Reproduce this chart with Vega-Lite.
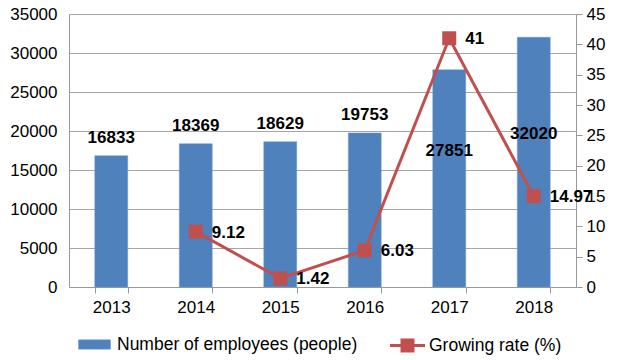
{
  "$schema": "https://vega.github.io/schema/vega-lite/v6.json",
  "width": 617,
  "height": 360,
  "autosize": {"type": "fit", "contains": "padding"},
  "padding": {"left": 9, "right": 12, "top": 5, "bottom": 3},
  "background": "white",
  "config": {
    "font": "Liberation Sans",
    "view": {"stroke": null},
    "axis": {"labelFont": "Liberation Sans", "labelFontSize": 17, "labelColor": "#000", "domainColor": "#999", "tickColor": "#999", "gridColor": "#A6A6A6", "title": null, "labelOverlap": false},
    "legend": {"layout": {"bottom": {"anchor": "middle", "direction": "horizontal", "margin": 38}}}
  },
  "data": {"values": [
    {"year": "2013", "employees": 16833, "rate": null},
    {"year": "2014", "employees": 18369, "rate": 9.12},
    {"year": "2015", "employees": 18629, "rate": 1.42},
    {"year": "2016", "employees": 19753, "rate": 6.03},
    {"year": "2017", "employees": 27851, "rate": 41},
    {"year": "2018", "employees": 32020, "rate": 14.97}
  ]},
  "encoding": {
    "x": {"field": "year", "type": "nominal", "scale": {"paddingInner": 0.61, "paddingOuter": 0.305},
      "axis": {"labelAngle": 0, "tickBand": "extent", "tickSize": 6, "labelPadding": 6, "domainColor": "#999", "grid": false}}
  },
  "layer": [
    {
      "encoding": {
        "y": {"field": "employees", "type": "quantitative", "scale": {"domain": [0, 35000]},
          "axis": {"orient": "left", "values": [0,5000,10000,15000,20000,25000,30000,35000], "format": "d", "ticks": false, "grid": true, "labelPadding": 12, "domain": true}}
      },
      "layer": [
        {
          "mark": {"type": "bar", "stroke": "#6E9BD3", "strokeWidth": 0.5},
          "encoding": {
            "fill": {"datum": "Number of employees (people)", "type": "nominal",
              "scale": {"range": ["#4F81BD"]},
              "legend": {"orient": "bottom", "offset": 19, "title": null, "labelFontSize": 17.5, "labelFont": "Liberation Sans", "labelColor": "#000", "labelLimit": 400, "symbolSize": 400, "labelOffset": 12,
                "symbolType": "M-1.6,-0.47H1.6V0.47H-1.6Z", "symbolStrokeColor": "#6E9BD3", "symbolStrokeWidth": 0.5}}
          }
        },
        {
          "transform": [{"filter": "datum.employees < 25000"}],
          "mark": {"type": "text", "fontWeight": "bold", "fontSize": 17, "dy": -18, "baseline": "middle", "color": "#000"},
          "encoding": {"text": {"field": "employees", "type": "quantitative", "format": "d"}}
        },
        {
          "transform": [{"filter": "datum.year === '2017'"}],
          "mark": {"type": "text", "fontWeight": "bold", "fontSize": 17, "dy": 81, "baseline": "middle", "color": "#000"},
          "encoding": {"text": {"field": "employees", "type": "quantitative", "format": "d"}}
        },
        {
          "transform": [{"filter": "datum.year === '2018'"}],
          "mark": {"type": "text", "fontWeight": "bold", "fontSize": 17, "dy": 97, "baseline": "middle", "color": "#000"},
          "encoding": {"text": {"field": "employees", "type": "quantitative", "format": "d"}}
        }
      ]
    },
    {
      "transform": [{"filter": "isValid(datum.rate)"}],
      "encoding": {
        "y": {"field": "rate", "type": "quantitative", "scale": {"domain": [0, 45]},
          "axis": {"orient": "right", "values": [0,5,10,15,20,25,30,35,40,45], "grid": false, "tickSize": 6, "labelPadding": 4}}
      },
      "layer": [
        {
          "mark": {"type": "line", "strokeWidth": 3},
          "encoding": {
            "stroke": {"datum": "Growing rate (%)", "type": "nominal",
              "scale": {"range": ["#C0504D"]},
              "legend": {"orient": "bottom", "offset": 19, "title": null, "labelFontSize": 17.5, "labelFont": "Liberation Sans", "labelColor": "#000", "labelLimit": 400, "symbolSize": 400, "labelOffset": 10,
                "symbolType": "M-1.75,0H1.75M-0.55,-0.55H0.55V0.55H-0.55Z", "symbolFillColor": "#C0504D", "symbolStrokeWidth": 3}}
          }
        },
        {
          "mark": {"type": "point", "shape": "square", "filled": true, "size": 196, "opacity": 1, "color": "#C0504D"}
        },
        {
          "mark": {"type": "text", "fontWeight": "bold", "fontSize": 17, "align": "left", "dx": 16, "dy": 1, "baseline": "middle", "color": "#000"},
          "encoding": {"text": {"field": "rate", "type": "nominal"}}
        }
      ]
    }
  ],
  "resolve": {"scale": {"y": "independent", "fill": "independent", "stroke": "independent"}}
}
